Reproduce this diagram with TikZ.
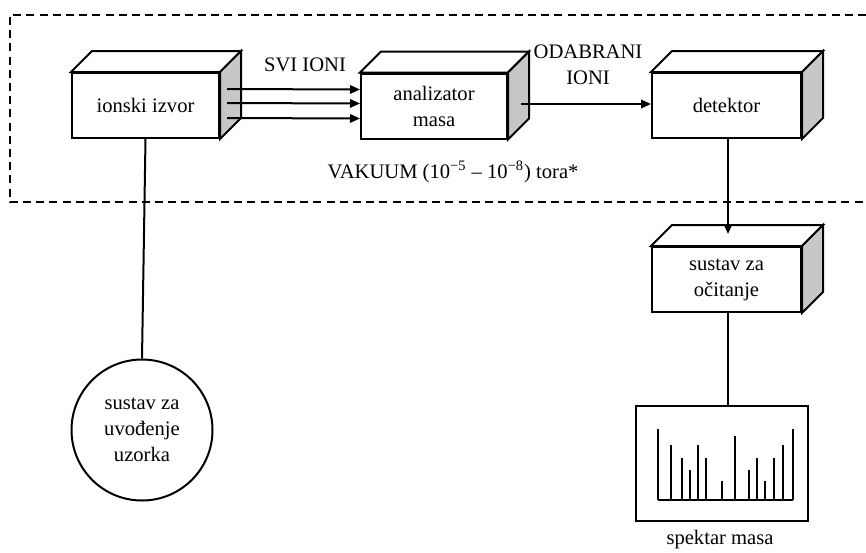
\documentclass[tikz,border=0pt]{standalone}
\usepackage{fontspec}
\setmainfont{Liberation Serif}
\usetikzlibrary{arrows.meta,calc}
\begin{document}
\begin{tikzpicture}[x=0.5pt,y=-0.5pt,
  font=\fontsize{10.3}{13}\selectfont,
  line width=1pt,
  frontbox/.style={draw,fill=white,minimum height=32.5pt,align=center,inner sep=0pt},
  arr/.style={-{Triangle[length=5pt,width=4.2pt]}},
  lbl/.style={align=center,inner sep=0pt},
  frame/.style={dash pattern=on 4pt off 2.6pt,line width=1pt}]
\useasboundingbox (0,0) rectangle (866,552);
% vacuum frame
\draw[frame] (866,15) -- (10,15) -- (10,202) -- (866,202);
% boxes (front faces)
\node[frontbox,minimum width=73.5pt] (izvor) at (145.5,105.5) {ionski izvor};
\node[frontbox,minimum width=73pt] (analizator) at (434,106) {analizator\\masa};
\node[frontbox,minimum width=74.5pt] (detektor) at (726.5,105.5) {detektor};
\node[frontbox,minimum width=74.5pt] (citanje) at (726.5,279.5) {sustav za\\očitanje};
\foreach \n in {izvor,analizator,detektor,citanje}{
  \draw[fill=white,line join=miter] (\n.north west) -- ++(10.5pt,10.5pt) -- ($(\n.north east)+(10.5pt,10.5pt)$) -- (\n.north east) -- cycle;
  \draw[fill=black!22,line join=miter] (\n.north east) -- ++(10.5pt,10.5pt) -- ($(\n.south east)+(10.5pt,10.5pt)$) -- (\n.south east) -- cycle;
}
% circle
\node[draw,circle,minimum size=70.5pt,align=center,inner sep=0pt] (uzorak) at (142,430) {sustav za\\uvođenje\\uzorka};
% spectrum box
\node[draw,minimum width=86pt,minimum height=57.5pt,inner sep=0pt] (spektar) at (722,463.5) {};
\node[lbl,anchor=center] (spektarlbl) at (720,540) {spektar masa};
% labels
\node[lbl] (svi) at (305,65) {SVI IONI};
\node[lbl] (odabrani) at (588,65) {ODABRANI\\IONI};
\node[lbl] (vakuum) at (453,172) {VAKUUM (10\textsuperscript{\char"2212 5} – 10\textsuperscript{\char"2212 8}) tora*};
% connectors
\foreach \d in {8.25,1.25,-6.25}{
  \draw[arr] ([xshift=3.5pt,yshift=\d pt]izvor.east) -- ([yshift=\d pt]analizator.west);
}
\draw[arr] ([xshift=6.5pt,yshift=1pt]analizator.east) -- ([yshift=0.75pt]detektor.west);
\draw[arr] ([xshift=0.75pt]detektor.south) -- ([xshift=0.75pt,yshift=6pt]citanje.north);
\draw ([xshift=0.75pt]citanje.south) -- ([xshift=0.75pt]citanje.south |- spektar.north);
\draw (izvor.south) -- (uzorak.north);
% spectrum bars
\draw[line cap=butt] (658,500) -- (793,500);
\foreach \x/\t in {658.3/428.7,670.7/445,681.7/458.3,690.3/470,698.3/445,706.3/458.3,721.7/481,735.3/436,749.3/470,757.3/458.3,765.3/481,773.7/458.3,783/445,792.7/428.7}{
  \draw (\x,500) -- (\x,\t);
}
\end{tikzpicture}
\end{document}
